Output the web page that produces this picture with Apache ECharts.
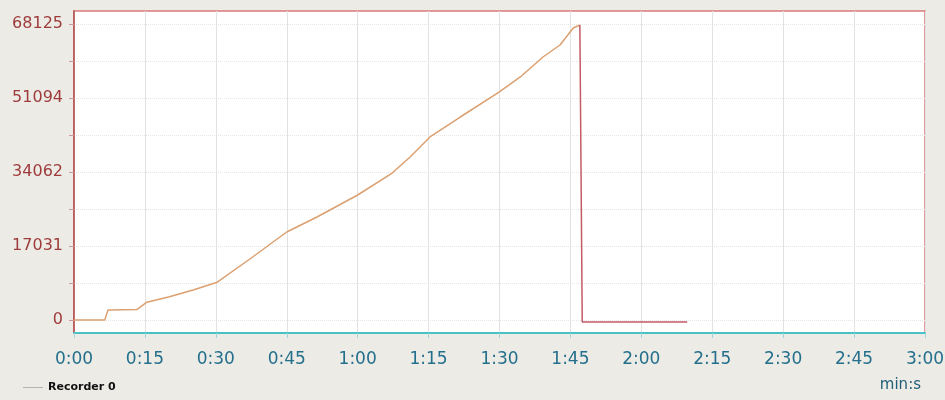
<!DOCTYPE html>
<html>
<head>
<meta charset="utf-8">
<script src="https://cdn.jsdelivr.net/npm/echarts@6/dist/echarts.min.js"></script>
<style>
html, body { margin: 0; padding: 0; background: #ecebe6; }
#chart { width: 945px; height: 400px; }
</style>
</head>
<body>
<div id="chart"></div>
<script>
// 记录仪数据（秒, 数值）
var timeSec = [0, 6.5, 7.2, 13.3, 15.4, 20, 25.2, 30.3, 37.5, 45, 51.4, 60, 67.3, 71.1, 75.3, 81.7, 89.9, 94.4, 99.2, 102.8, 105.6, 107.0];
var recorderValues = [0, 0, 2300, 2400, 4100, 5300, 6900, 8700, 14270, 20250, 23700, 28770, 33830, 37510, 42120, 46720, 52470, 55930, 60530, 63290, 67200, 67900];
// 回落段
var dropTime = [107.0, 107.5, 129.7];
var dropValues = [67900, -460, -460];

// 刻度
var yLabelValues = [0, 17031, 34062, 51094, 68125];
var yTickValues = [0, 8516, 17031, 25547, 34062, 42578, 51094, 59609, 68125];
var yMin = -2992;
var yMax = 71117;
var xMax = 180;
var xStep = 15;

function toPairs(xs, ys) {
	var out = [];
	for (var i = 0; i < xs.length; i++) {
		out.push([xs[i], ys[i]]);
	}
	return out;
}

function fmtTime(v) {
	var m = Math.floor(v / 60);
	var s = Math.round(v % 60);
	return m + ':' + (s < 10 ? '0' + s : s);
}

var chart = echarts.init(document.getElementById('chart'));
var option = {
	backgroundColor: '#ecebe6',
	animation: false,
	grid: {
		left: 74,
		right: 20,
		top: 11,
		bottom: 67,
		outerBoundsMode: 'none',
		show: true,
		backgroundColor: '#ffffff',
		borderColor: '#d97a7a',
		borderWidth: 1.5
	},
	legend: {
		left: 18,
		top: 377,
		itemWidth: 20,
		itemHeight: 10,
		itemGap: 6,
		icon: 'path://M0,5 L24,5 L24,6 L0,6 Z',
		itemStyle: { color: '#a8a8a8' },
		textStyle: { fontFamily: 'DejaVu Sans', fontSize: 11, fontWeight: 'bold', color: '#111' },
		data: ['Recorder 0']
	},
	xAxis: {
		type: 'value',
		min: 0,
		max: xMax,
		interval: xStep,
		name: 'min:s',
		nameLocation: 'end',
		nameGap: -4,
		nameTextStyle: {
			fontFamily: 'DejaVu Sans',
			fontSize: 15,
			color: '#1f5f78',
			align: 'right',
			verticalAlign: 'top',
			padding: [45, 0, 0, 0]
		},
		axisLine: { show: true, onZero: false, lineStyle: { color: '#48c2c4', width: 2 } },
		axisTick: { show: true, length: 5, lineStyle: { color: '#9fd6dc' } },
		axisLabel: {
			margin: 18,
			fontFamily: 'DejaVu Sans',
			fontSize: 17,
			color: '#246f8c',
			formatter: fmtTime
		},
		splitLine: { show: true, lineStyle: { color: '#e2e2e2', width: 1 } }
	},
	yAxis: {
		type: 'value',
		min: yMin,
		max: yMax,
		axisLine: { show: true, lineStyle: { color: '#b04848', width: 1.5 } },
		axisTick: { show: true, length: 5, customValues: yTickValues, lineStyle: { color: '#c99' } },
		axisLabel: {
			margin: 11,
			customValues: yLabelValues,
			fontFamily: 'DejaVu Sans',
			fontSize: 16,
			color: '#9e3b3b',
			formatter: function(v) { return String(v); }
		},
		splitLine: { show: true, lineStyle: { color: '#e6e6e6', type: 'dotted', width: 1 } }
	},
	series: [
		{
			name: 'Recorder 0',
			type: 'line',
			showSymbol: false,
			data: toPairs(timeSec, recorderValues),
			lineStyle: { color: '#dca070', width: 1.5 },
			itemStyle: { color: '#dca070' }
		},
		{
			name: 'Recorder 0',
			type: 'line',
			showSymbol: false,
			data: toPairs(dropTime, dropValues),
			lineStyle: { color: '#c45a66', width: 1.5 },
			itemStyle: { color: '#c45a66' }
		}
	]
};
chart.setOption(option);
</script>
</body>
</html>
